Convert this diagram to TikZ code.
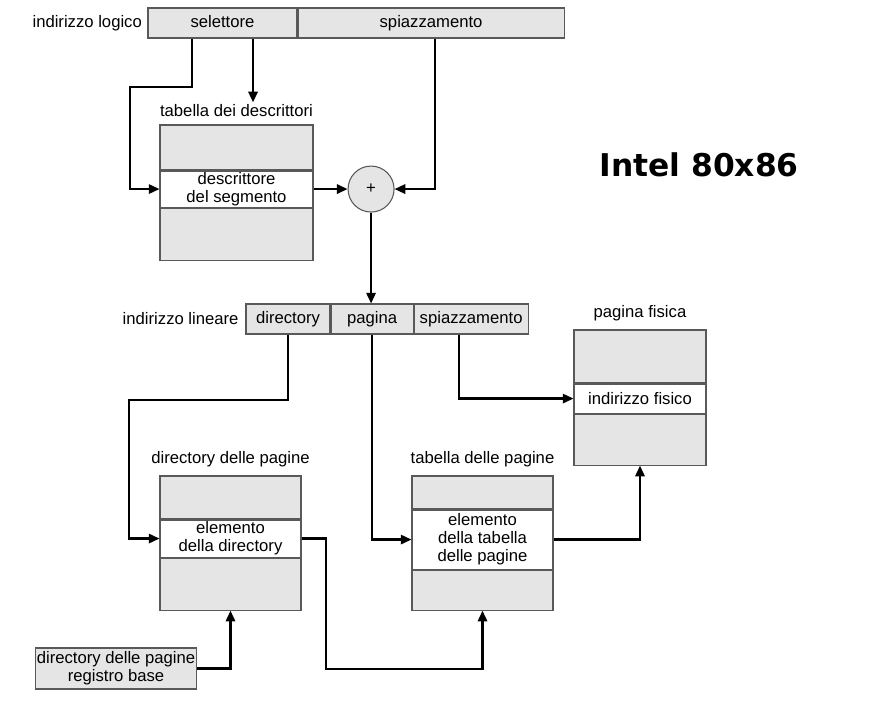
\documentclass[tikz,border=0pt]{standalone}
\usepackage{fontspec}
\setmainfont{Liberation Sans}
\newfontfamily\titlefont{DejaVu Sans}
\usepackage{tikz}
\usetikzlibrary{arrows.meta,positioning}
\definecolor{cellgray}{rgb}{.9,.9,.9}
\definecolor{edgegray}{rgb}{.35,.35,.35}

\begin{document}
\begin{tikzpicture}[x=0.75pt,y=-0.75pt,% one unit is one pixel of the original
		every node/.style={
			align=center,  		% so that "\\" breaks the line
			font=\fontsize{12.5}{13.5}\selectfont
		},
		field/.style={rectangle,draw=edgegray,line width=0.8pt,fill=cellgray,minimum height=22.5pt,inner sep=0pt,text height=9pt,text depth=2.7pt},
		cell/.style={rectangle,draw=edgegray,line width=0.8pt,fill=cellgray,inner sep=0pt},
		entry/.style={cell,fill=white},
		plus/.style={circle,draw=edgegray,line width=0.8pt,fill=cellgray,minimum size=34.5pt,inner sep=0pt},
		lbl/.style={inner sep=1pt},
		conn/.style={draw,line width=1.6pt,-{Triangle[length=8pt,width=7pt]}}
	]
	\useasboundingbox (0,0) rectangle (876,702);
	% logical address
	\node[field,minimum width=111.75pt](sel) at (222.5,23) {selettore};
	\node[field,minimum width=199.5pt,right=0pt of sel](spi) {spiazzamento};
	\node[lbl,left=3pt of sel](logico) {indirizzo logico};
	% descriptor table
	\node[cell,minimum width=114.75pt,minimum height=33.75pt](dt) at (236.5,147.5) {};
	\node[entry,minimum width=114.75pt,minimum height=27pt,below=0pt of dt](de) {descrittore\\del segmento};
	\node[cell,minimum width=114.75pt,minimum height=39pt,below=0pt of de](db) {};
	\node[lbl,above=5pt of dt](dlbl) {tabella dei descrittori};
	\node[plus,right=25.5pt of de](plus) {+};
	\node[font=\titlefont\bfseries\fontsize{23.5}{28}\selectfont](intel) at (699,165) {Intel 80x86};
	% linear address
	\node[field,minimum width=63pt](ldir) at (288,319) {directory};
	\node[field,minimum width=61.5pt,right=0pt of ldir](lpag) {pagina};
	\node[field,minimum width=85.5pt,right=0pt of lpag](lspi) {spiazzamento};
	\node[lbl,left=4pt of ldir](lineare) {indirizzo lineare};
	% physical page
	\node[cell,minimum width=99pt,minimum height=39.75pt](pft) at (640,356.5) {};
	\node[entry,minimum width=99pt,minimum height=21.75pt,below=0pt of pft](pfe) {indirizzo fisico};
	\node[cell,minimum width=99pt,minimum height=38.25pt,below=0pt of pfe](pfb) {};
	\node[lbl,above=5pt of pft](pflbl) {pagina fisica};
	% page directory
	\node[cell,minimum width=105.75pt,minimum height=32.25pt](pdt) at (230.5,497.5) {};
	\node[entry,minimum width=105.75pt,minimum height=27.75pt,below=0pt of pdt](pde) {elemento\\della directory};
	\node[cell,minimum width=105.75pt,minimum height=39pt,below=0pt of pde](pdb) {};
	\node[lbl,above=5pt of pdt](pdlbl) {directory delle pagine};
	% page table
	\node[cell,minimum width=105.75pt,minimum height=24.75pt](tdt) at (482.5,492.5) {};
	\node[entry,minimum width=105.75pt,minimum height=44.25pt,below=0pt of tdt](tde) {elemento\\della tabella\\delle pagine};
	\node[cell,minimum width=105.75pt,minimum height=30pt,below=0pt of tde](tdb) {};
	\node[lbl,above=5pt of tdt](tdlbl) {tabella delle pagine};
	% base register
	\node[cell,minimum width=118.5pt,minimum height=30.75pt,inner sep=1pt](reg) at (116,668.5) {directory delle pagine\\registro base};
	% bends
	\coordinate (k1) at (130,87);
	\coordinate (k2) at (129,400);
	\coordinate (k3) at (326,669);
	\coordinate (s2) at ([xshift=22.9pt]sel.south);
	\draw[conn] ([xshift=-22.9pt]sel.south) |- (k1) |- (de.west);
	\draw[conn] (s2) -- (s2 |- dlbl.north);
	\draw[conn] ([xshift=3pt]spi.south) |- (plus.east);
	\draw[conn] (de.east) -- (plus.west);
	\draw[conn] (plus.south) -- (plus.south |- lpag.north);
	\draw[conn] (ldir.south) |- (k2) |- (pde.west);
	\draw[conn] (lpag.south) |- (tde.west);
	\draw[conn] ([xshift=-9pt]lspi.south) |- (pfe.west);
	\draw[conn] (tde.east) -| (pfb.south);
	\draw[conn] (pde.east) -| (k3) -| (tdb.south);
	\draw[conn] (reg.east) -| (pdb.south);
\end{tikzpicture}
\end{document}
